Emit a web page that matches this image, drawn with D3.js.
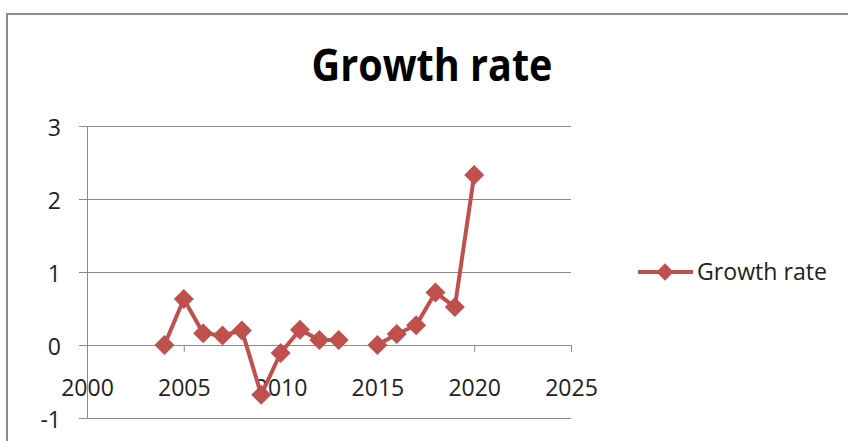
<!DOCTYPE html>
<html><head><meta charset="utf-8">
<script src="https://cdn.jsdelivr.net/npm/d3@7"></script>
<style>html,body{margin:0;padding:0;background:#fff;overflow:hidden}</style>
</head><body>
<svg id="c" width="848" height="441"></svg>
<script>
const years = [2004,2005,2006,2007,2008,2009,2010,2011,2012,2013,2014,2015,2016,2017,2018,2019,2020];
const growthRate = [0,0.63,0.16,0.13,0.2,-0.68,-0.11,0.21,0.07,0.07,null,0,0.15,0.27,0.72,0.52,2.33];
const xTicks = [2000,2005,2010,2015,2020,2025];
const yTicks = [-1,0,1,2,3];
const seriesName = "Growth rate";
const titleText = "Growth rate";

const svg = d3.select("#c");
const font = "'Open Sans', 'Noto Sans', sans-serif";
const color = "#C0504D";

svg.append("rect").attr("x",7).attr("y",14).attr("width",860).attr("height",450)
  .attr("fill","#fff").attr("stroke","#8c8c8c").attr("stroke-width",2);

const x = d3.scaleLinear().domain([2000,2025]).range([87,571]);
const y = d3.scaleLinear().domain([-1,3]).range([418,126]);

// gridlines
svg.append("g").selectAll("line").data(yTicks).join("line")
  .attr("x1",79).attr("x2",571).attr("y1",d=>y(d)).attr("y2",d=>y(d))
  .attr("stroke","#8c8c8c").attr("stroke-width",1).attr("shape-rendering","crispEdges");

// y axis line
svg.append("line").attr("x1",87).attr("x2",87).attr("y1",y(3)).attr("y2",y(-1))
  .attr("stroke","#8c8c8c").attr("shape-rendering","crispEdges");

// y labels
svg.append("g").selectAll("text").data(yTicks).join("text")
  .attr("x",61).attr("y",d=>y(d)+2).attr("dy","0.35em").attr("text-anchor","end")
  .attr("font-family",font).attr("font-size",23).attr("fill","#222").text(d=>d);

// x axis at 0
const xAxis = d3.axisBottom(x).tickValues(xTicks).tickSize(7).tickFormat(d3.format("d"));
const gx = svg.append("g").attr("transform",`translate(0,${y(0)})`).call(xAxis);
gx.select(".domain").attr("stroke","#8c8c8c");
gx.selectAll(".tick line").attr("stroke","#8c8c8c");
gx.selectAll(".tick text").attr("font-family",font).attr("font-size",23).attr("fill","#222").attr("y",43).attr("dy","0.35em");

const data = years.map((yr,i)=>({yr, v: growthRate[i]}));
const line = d3.line().defined(d=>d.v!==null).x(d=>x(d.yr)).y(d=>y(d.v));
svg.append("path").datum(data).attr("d",line).attr("fill","none")
  .attr("stroke",color).attr("stroke-width",4).attr("stroke-linejoin","round");

const marker = d3.symbol().type(d3.symbolSquare).size(200);
svg.append("g").selectAll("path").data(data.filter(d=>d.v!==null)).join("path")
  .attr("d",marker).attr("transform",d=>`translate(${x(d.yr)},${y(d.v)}) rotate(45)`).attr("fill",color);

// title
svg.append("text").attr("x",432).attr("y",81).attr("text-anchor","middle")
  .attr("font-family",font).attr("font-weight","bold").attr("font-size",44)
  .attr("textLength",241).attr("lengthAdjust","spacingAndGlyphs").attr("fill","#000").text(titleText);

// legend
const lg = svg.append("g");
lg.append("line").attr("x1",638).attr("x2",693).attr("y1",272).attr("y2",272).attr("stroke",color).attr("stroke-width",4);
lg.append("path").attr("d",d3.symbol().type(d3.symbolSquare).size(150)).attr("transform","translate(665,272) rotate(45)").attr("fill",color);
lg.append("text").attr("x",697).attr("y",272).attr("dy","0.35em").attr("font-family",font)
  .attr("font-size",23).attr("fill","#222").attr("textLength",130).attr("lengthAdjust","spacingAndGlyphs").text(seriesName);
</script>
</body></html>
